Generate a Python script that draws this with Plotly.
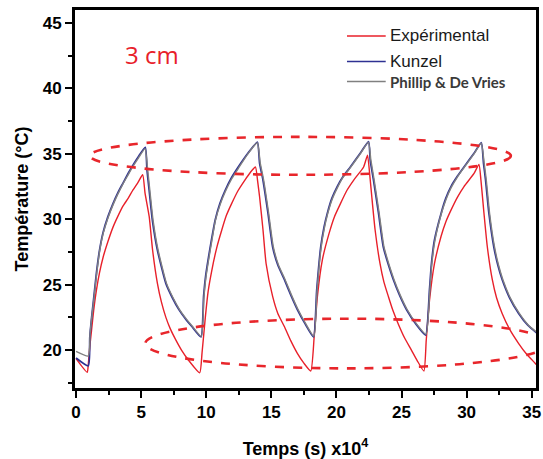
import plotly.graph_objects as go

# Temperature at 3 cm depth over four daily cycles (time in units of 1e4 s)
exp_t = [0, 0.86, 0.94, 1.05, 1.19, 1.35, 1.57, 1.8, 2.08, 2.45, 2.84, 3.2, 3.6, 4.0, 4.35, 4.75, 5.12,
         5.3, 5.62, 5.88, 6.25, 6.55, 6.9, 7.25, 7.65, 8.1, 8.66, 9.5,
         9.68, 9.93, 10.15, 10.43, 10.8, 11.2, 11.55, 11.95, 12.45, 12.97, 13.4, 13.78,
         13.95, 14.1, 14.36, 14.6, 15.1, 15.5, 16.0, 16.5, 17.0, 17.5, 18.03,
         18.29, 18.54, 18.92, 19.43, 19.85, 20.31, 20.8, 21.33, 22.09, 22.39,
         22.55, 22.72, 22.97, 23.35, 23.65, 23.99, 24.35, 24.75, 25.25, 25.76, 26.2, 26.72,
         26.9, 27.15, 27.53, 28.04, 28.4, 28.8, 29.3, 29.8, 30.57, 30.95,
         31.1, 31.33, 31.59, 31.97, 32.3, 32.73, 33.3, 34.0, 34.6, 35.26, 35.4]
exp_T = [19.35, 18.3, 18.9, 20.2, 21.5, 23.0, 24.6, 25.9, 27.1, 28.3, 29.4, 30.2, 31.0, 31.6, 32.2, 32.8, 33.4,
         32.0, 30.2, 27.65, 25.1, 23.7, 22.5, 21.6, 20.8, 20.0, 19.2, 18.26,
         19.8, 22.5, 24.5, 26.1, 27.8, 29.2, 30.3, 31.2, 32.2, 33.0, 33.6, 34.0,
         32.9, 31.7, 29.2, 26.6, 24.1, 22.8, 21.8, 20.7, 19.75, 19.0, 18.4,
         21.0, 24.1, 26.9, 28.9, 30.2, 31.2, 32.2, 33.0, 34.0, 34.9,
         33.5, 31.7, 29.2, 26.6, 25.2, 24.1, 23.0, 22.0, 20.9, 20.0, 19.2, 18.4,
         20.77, 23.8, 26.6, 28.7, 29.8, 30.7, 31.7, 32.5, 33.5, 34.2,
         33.0, 30.5, 27.9, 25.4, 24.0, 22.8, 21.6, 20.5, 19.7, 19.0, 18.85]

kunzel_t = [0, 0.94, 1.06, 1.2, 1.32, 1.57, 1.8, 2.08, 2.45, 2.84, 3.2, 3.6, 4.0, 4.35, 4.8, 5.32,
            5.45, 5.62, 5.87, 6.25, 6.9, 7.4, 7.9, 8.4, 8.9, 9.6,
            9.8, 9.95, 10.18, 10.4, 10.69, 11.05, 11.45, 11.95, 12.46, 13.2, 13.93,
            14.1, 14.36, 14.74, 15.1, 15.5, 16.0, 16.5, 17.0, 17.6, 18.24,
            18.49, 18.8, 19.05, 19.3, 19.65, 20.06, 20.5, 21.07, 21.83, 22.47,
            22.6, 22.85, 23.23, 23.6, 24.0, 24.37, 24.85, 25.38, 26.1, 26.85,
            27.15, 27.3, 27.53, 28.04, 28.4, 28.8, 29.3, 29.8, 30.57, 31.13,
            31.3, 31.46, 31.71, 32.09, 32.4, 32.73, 33.3, 34.0, 34.7, 35.4]
kunzel_T = [19.4, 18.8, 21.0, 22.5, 23.6, 25.9, 27.6, 29.0, 30.2, 31.2, 32.0, 32.75, 33.5, 34.1, 34.8, 35.5,
            33.8, 32.2, 29.9, 27.65, 25.1, 24.0, 23.1, 22.4, 21.8, 21.0,
            24.1, 25.6, 27.1, 28.4, 29.95, 31.2, 32.2, 33.2, 34.0, 35.05, 35.9,
            34.3, 33.0, 30.5, 27.9, 26.5, 25.4, 24.2, 23.1, 22.0, 21.0,
            24.6, 27.9, 29.4, 30.45, 31.6, 32.5, 33.25, 34.0, 35.05, 35.94,
            34.5, 33.0, 30.5, 27.9, 26.5, 25.4, 24.2, 23.1, 22.0, 21.15,
            24.6, 26.6, 28.4, 30.45, 31.6, 32.5, 33.3, 34.0, 35.05, 35.86,
            34.3, 33.0, 30.5, 27.9, 26.5, 25.4, 24.0, 22.8, 21.9, 21.3]

phillip_t = [0, 0.94, 1.08, 1.22, 1.34, 1.58, 1.8, 2.08, 2.45, 2.84, 3.2, 3.6, 4.0, 4.35, 4.8, 5.3,
             5.5, 5.67, 5.92, 6.3, 6.95, 7.45, 7.95, 8.45, 8.95, 9.62,
             9.82, 9.97, 10.2, 10.42, 10.7, 11.06, 11.46, 11.96, 12.47, 13.2, 13.92,
             14.15, 14.41, 14.79, 15.15, 15.55, 16.05, 16.55, 17.05, 17.65, 18.27,
             18.51, 18.82, 19.07, 19.32, 19.66, 20.07, 20.5, 21.07, 21.83, 22.46,
             22.65, 22.9, 23.28, 23.65, 24.05, 24.42, 24.9, 25.43, 26.15, 26.88,
             27.17, 27.32, 27.55, 28.05, 28.41, 28.8, 29.3, 29.8, 30.57, 31.12,
             31.35, 31.51, 31.76, 32.14, 32.45, 32.78, 33.35, 34.05, 34.75, 35.4]
phillip_T = [19.9, 19.55, 21.3, 22.6, 23.6, 25.8, 27.5, 28.9, 30.1, 31.1, 31.9, 32.7, 33.4, 34.0, 34.7, 35.4,
             33.8, 32.2, 29.9, 27.65, 25.1, 24.0, 23.1, 22.4, 21.8, 21.05,
             24.0, 25.5, 27.0, 28.3, 29.9, 31.1, 32.1, 33.1, 33.9, 35.0, 35.85,
             34.3, 33.0, 30.5, 27.9, 26.5, 25.4, 24.2, 23.1, 22.0, 21.05,
             24.5, 27.8, 29.3, 30.4, 31.5, 32.4, 33.2, 33.95, 35.0, 35.9,
             34.5, 33.0, 30.5, 27.9, 26.5, 25.4, 24.2, 23.1, 22.0, 21.2,
             24.5, 26.5, 28.3, 30.4, 31.5, 32.4, 33.25, 33.95, 35.0, 35.82,
             34.3, 33.0, 30.5, 27.9, 26.5, 25.4, 24.0, 22.8, 21.9, 21.35]

series_names = ["Expérimental", "Kunzel", "Phillip & De Vries"]

x_ticks = [0, 5, 10, 15, 20, 25, 30, 35]
y_ticks = [20, 25, 30, 35, 40, 45]

# Highlighted zones (peak band and trough band), data coordinates
peak_zone = dict(t0=1.06, t1=33.4, T0=33.4, T1=36.3)
trough_zone = dict(t0=5.32, t1=36.36, T0=18.6, T1=22.4)

RED = "#e8202a"
BLUE = "#2e3192"
GRAY = "#808080"
ELLIPSE_RED = "#e8262b"
colors = [RED, BLUE, GRAY]
widths = [1.4, 1.8, 1.4]

fig = go.Figure()
for (t, T), name, c, w in zip([(exp_t, exp_T), (kunzel_t, kunzel_T), (phillip_t, phillip_T)],
                              series_names, colors, widths):
    fig.add_trace(go.Scatter(x=t, y=T, mode="lines", name=name, showlegend=False,
                             line=dict(color=c, width=w, shape="spline", smoothing=0.5)))

for z in (peak_zone, trough_zone):
    fig.add_shape(type="circle", xref="x", yref="y",
                  x0=z["t0"], x1=z["t1"], y0=z["T0"], y1=z["T1"],
                  line=dict(color=ELLIPSE_RED, width=2.6, dash="dash"),
                  layer="above")

# Legend block in the upper right of the plot area
legend_rows = [0.9314, 0.8636, 0.8108]
legend_fonts = [
    dict(family="Liberation Sans, Arial", size=17, color="#1a1a1a"),
    dict(family="Liberation Sans, Arial", size=17, color="#1a1a1a"),
    dict(family="Lato", size=15, color="#3a3a3a", weight="bold"),
]
for name, c, yr, f in zip(series_names, colors, legend_rows, legend_fonts):
    fig.add_shape(type="line", xref="paper", yref="paper", x0=0.590, x1=0.674, y0=yr, y1=yr,
                  line=dict(color=c, width=1.6))
    fig.add_annotation(x=0.678, y=yr, xref="paper", yref="paper", text=name, showarrow=False,
                       xanchor="left", yanchor="middle", font=f)

fig.add_annotation(x=5.8, y=42.6, xref="x", yref="y", text="3 cm", showarrow=False,
                   font=dict(family="Open Sans", size=24, color=RED))

axis_font = dict(family="Liberation Sans", size=17, color="black", weight="bold")
title_font = dict(family="Liberation Sans", size=18, color="black", weight="bold")

fig.update_xaxes(range=[-0.08, 35.33], tickmode="array", tickvals=x_ticks,
                 ticktext=[f"<b>{v}</b>" for v in x_ticks], ticklabeloverflow="allow",
                 ticks="outside", ticklen=7, tickwidth=2, tickcolor="black",
                 minor=dict(dtick=2.5, tick0=0, ticks="outside", ticklen=4, tickwidth=2, tickcolor="black"),
                 showline=True, linewidth=3, linecolor="black", mirror=True,
                 showgrid=False, zeroline=False, tickfont=axis_font,
                 title=dict(text="Temps (s) x10<sup>4</sup>", font=title_font, standoff=22))
fig.update_yaxes(range=[17.1, 46.0], tickmode="array", tickvals=y_ticks,
                 ticktext=[f"<b>{v}</b>" for v in y_ticks], ticklabeloverflow="allow",
                 ticks="outside", ticklen=7, tickwidth=2, tickcolor="black",
                 minor=dict(dtick=2.5, tick0=0, ticks="outside", ticklen=4, tickwidth=2, tickcolor="black"),
                 showline=True, linewidth=3, linecolor="black", mirror=True,
                 showgrid=False, zeroline=False, tickfont=axis_font,
                 title=dict(text="Température (°C)", font=title_font, standoff=10))

fig.update_layout(
    width=543, height=459,
    margin=dict(l=75, r=2, t=10, b=70),
    paper_bgcolor="white", plot_bgcolor="white",
    showlegend=False,
)

fig.write_html("out.html")
